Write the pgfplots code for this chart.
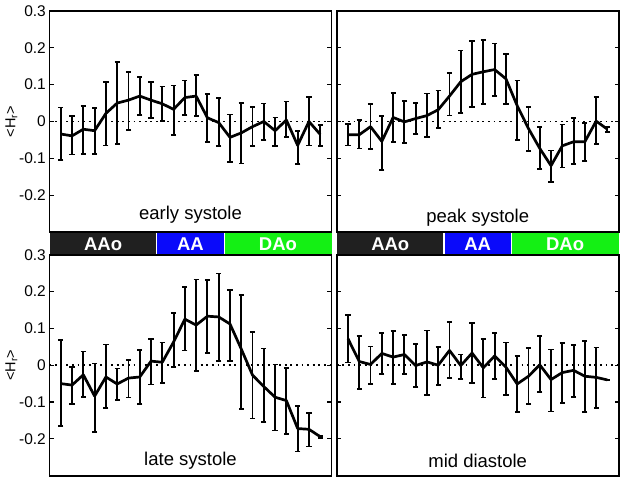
\documentclass[border=0pt]{standalone}
\usepackage{pgfplots}
\pgfplotsset{compat=1.18}
\usepackage{pgfplotstable}
\usepackage{fontspec}
\setmainfont{Liberation Sans}

\definecolor{stripblack}{RGB}{32,32,32}
\definecolor{stripblue}{RGB}{10,10,250}
\definecolor{stripgreen}{RGB}{20,240,20}

\pgfplotstableread{
x y lo hi
1 -0.034 -0.105 0.038
2 -0.039 -0.090 0.014
3 -0.021 -0.088 0.042
4 -0.025 -0.089 0.036
5 0.022 -0.065 0.107
6 0.050 -0.061 0.161
7 0.058 -0.023 0.134
8 0.069 0.018 0.120
9 0.058 0.009 0.108
10 0.048 0.002 0.095
11 0.033 -0.036 0.098
12 0.065 0.017 0.111
13 0.069 0.014 0.126
14 0.010 -0.055 0.074
15 -0.003 -0.067 0.063
16 -0.043 -0.110 0.019
17 -0.031 -0.114 0.050
18 -0.014 -0.066 0.039
19 0.000 -0.050 0.049
20 -0.025 -0.066 0.011
21 0.004 -0.043 0.054
22 -0.065 -0.115 -0.026
23 0.000 -0.065 0.066
24 -0.035 -0.067 -0.009
}\tabES

\pgfplotstableread{
x y lo hi
1 -0.036 -0.065 -0.007
2 -0.036 -0.073 0.005
3 -0.014 -0.075 0.047
4 -0.054 -0.131 0.015
5 0.011 -0.056 0.077
6 -0.001 -0.059 0.056
7 0.008 -0.033 0.051
8 0.016 -0.043 0.076
9 0.032 -0.018 0.084
10 0.069 0.016 0.132
11 0.108 0.024 0.193
12 0.128 0.039 0.218
13 0.135 0.048 0.222
14 0.141 0.070 0.212
15 0.116 0.047 0.183
16 0.043 -0.050 0.111
17 -0.019 -0.080 0.039
18 -0.073 -0.129 -0.014
19 -0.120 -0.164 -0.079
20 -0.066 -0.125 -0.008
21 -0.055 -0.116 0.010
22 -0.055 -0.108 -0.004
23 0.001 -0.062 0.066
24 -0.021 -0.029 -0.015
}\tabPS

\pgfplotstableread{
x y lo hi
1 -0.050 -0.166 0.068
2 -0.054 -0.106 -0.005
3 -0.026 -0.087 0.037
4 -0.084 -0.181 0.005
5 -0.032 -0.117 0.056
6 -0.051 -0.095 -0.009
7 -0.035 -0.088 0.015
8 -0.032 -0.106 0.042
9 0.011 -0.052 0.072
10 0.008 -0.048 0.062
11 0.063 -0.005 0.142
12 0.125 0.040 0.212
13 0.109 -0.016 0.233
14 0.133 0.033 0.231
15 0.131 0.011 0.249
16 0.112 0.012 0.205
17 0.044 -0.119 0.190
18 -0.027 -0.145 0.091
19 -0.058 -0.155 0.045
20 -0.087 -0.177 0.002
21 -0.096 -0.186 -0.008
22 -0.172 -0.234 -0.111
23 -0.174 -0.221 -0.129
24 -0.194 -0.197 -0.192
}\tabLS

\pgfplotstableread{
x y lo hi
1 0.072 0.007 0.137
2 0.010 -0.065 0.080
3 0.002 -0.051 0.051
4 0.032 -0.024 0.087
5 0.022 -0.051 0.092
6 0.029 -0.023 0.082
7 -0.001 -0.060 0.057
8 0.009 -0.080 0.094
9 0.000 -0.053 0.049
10 0.040 -0.035 0.117
11 -0.001 -0.038 0.029
12 0.033 -0.049 0.114
13 -0.007 -0.088 0.071
14 0.025 -0.037 0.088
15 -0.005 -0.080 0.062
16 -0.051 -0.128 0.025
17 -0.030 -0.106 0.047
18 0.001 -0.072 0.080
19 -0.039 -0.126 0.043
20 -0.020 -0.103 0.061
21 -0.014 -0.087 0.054
22 -0.030 -0.127 0.065
23 -0.033 -0.117 0.048
24 -0.040 -0.040 -0.040
}\tabMD

\pgfplotsset{
  panel/.style={
    anchor=south west, scale only axis, width=282pt, height=221pt,
    xmin=0, xmax=25, ymin=-0.3, ymax=0.3,
    xtick=\empty, ytick={-0.2,-0.1,0,0.1,0.2,0.3},
    yticklabels={-0.2,-0.1,0,0.1,0.2,0.3},
    tick align=inside, major tick length=4pt,
    axis line style={line width=1.9pt, black},
    every tick/.style={black, line width=1.2pt},
    yticklabel style={font=\fontsize{15.5}{18}\selectfont, inner sep=1pt, xshift=-2.5pt},
    clip=false,
  },
  ylab/.style={
    ylabel={<H\textsubscript{r}>},
    ylabel style={at={(axis description cs:-0.135,0.5)}, anchor=center,
      font=\fontsize{14.5}{17}\selectfont},
  },
  noylab/.style={yticklabels={}},
  zeroline/.style={black, line width=1.8pt, dash pattern=on 1.8pt off 3.8pt},
  series/.style={black, line width=2.7pt, line join=round, mark=none,
    error bars/.cd, y dir=both, y explicit,
    error bar style={line width=1.9pt, black, solid},
    error mark options={rotate=90, mark size=2.6pt, line width=1.7pt, black}},
  strip/.style={anchor=south west, scale only axis, width=282pt, height=23pt,
    xmin=0, xmax=25, ymin=0, ymax=1, hide axis, clip=false},
}
\newcommand\ptitle[2]{\node[font=\fontsize{18.5}{22}\selectfont, anchor=base] at (axis cs:12.5,#1) {#2};}
\newcommand\stripcontent{%
  \addplot[fill=stripblack, draw=none] coordinates {(0,0) (9.5,0) (9.5,1) (0,1)} -- cycle;
  \addplot[fill=stripblue, draw=none] coordinates {(9.5,0) (15.5,0) (15.5,1) (9.5,1)} -- cycle;
  \addplot[fill=stripgreen, draw=none] coordinates {(15.5,0) (25,0) (25,1) (15.5,1)} -- cycle;
  \addplot[white, line width=1.6pt] coordinates {(9.5,0) (9.5,1)};
  \addplot[white, line width=1.6pt] coordinates {(15.5,0) (15.5,1)};
  \node[white, font=\bfseries\fontsize{18.5}{20}\selectfont] at (axis cs:4.75,0.46) {AAo};
  \node[white, font=\bfseries\fontsize{18.5}{20}\selectfont] at (axis cs:12.5,0.46) {AA};
  \node[white, font=\bfseries\fontsize{18.5}{20}\selectfont] at (axis cs:20.25,0.46) {DAo};
}

\begin{document}
\begin{tikzpicture}
\useasboundingbox (0,0) rectangle (624pt,482pt);

\begin{axis}[strip, at={(49.5pt,227pt)}]
\stripcontent
\end{axis}
\begin{axis}[strip, at={(336.7pt,227pt)}]
\stripcontent
\end{axis}

% early systole
\begin{axis}[panel, ylab, at={(49.5pt,250pt)}]
\addplot[zeroline] coordinates {(0,0) (25,0)};
\addplot[series] table[x=x, y=y, y error plus expr=\thisrow{hi}-\thisrow{y}, y error minus expr=\thisrow{y}-\thisrow{lo}] {\tabES};
\ptitle{-0.266}{early systole}
\end{axis}

% peak systole
\begin{axis}[panel, noylab, at={(336.7pt,250pt)}]
\addplot[zeroline] coordinates {(0,0) (25,0)};
\addplot[series] table[x=x, y=y, y error plus expr=\thisrow{hi}-\thisrow{y}, y error minus expr=\thisrow{y}-\thisrow{lo}] {\tabPS};
\ptitle{-0.274}{peak systole}
\end{axis}

% late systole
\begin{axis}[panel, ylab, at={(49.5pt,6.3pt)}]
\addplot[zeroline] coordinates {(0,0) (25,0)};
\addplot[series] table[x=x, y=y, y error plus expr=\thisrow{hi}-\thisrow{y}, y error minus expr=\thisrow{y}-\thisrow{lo}] {\tabLS};
\ptitle{-0.273}{late systole}
\end{axis}

% mid diastole
\begin{axis}[panel, noylab, at={(336.7pt,6.3pt)}]
\addplot[zeroline] coordinates {(0,0) (25,0)};
\addplot[series] table[x=x, y=y, y error plus expr=\thisrow{hi}-\thisrow{y}, y error minus expr=\thisrow{y}-\thisrow{lo}] {\tabMD};
\ptitle{-0.277}{mid diastole}
\end{axis}
\end{tikzpicture}
\end{document}
